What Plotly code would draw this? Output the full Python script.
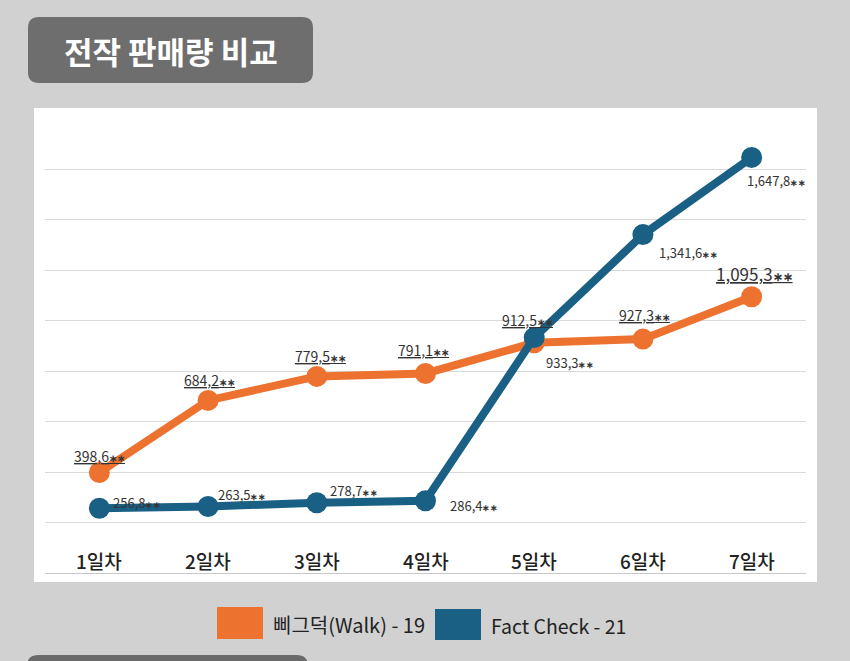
import plotly.graph_objects as go

# ---- data ----
categories = ["1일차", "2일차", "3일차", "4일차", "5일차", "6일차", "7일차"]
series_names = ["삐그덕(Walk) - 19", "Fact Check - 21"]
walk_values = [398.6, 684.2, 779.5, 791.1, 912.5, 927.3, 1095.3]
fact_values = [256.8, 263.5, 278.7, 286.4, 933.3, 1341.6, 1647.8]
title_text = "전작 판매량 비교"

# ---- style ----
W, H = 850, 661
L, R, T, B = 45, 44, 119, 88
PW, PH = W - L - R, H - T - B
ORANGE = "#ED7230"
BLUE = "#1A5F84"
BG = "#D1D1D1"
FONT = "Noto Sans CJK KR"

def stars(size):
    return f"<span style='font-size:{size}px'><b>∗∗</b></span>"

def px(x):
    return (x - L) / PW

def py(y):
    return (H - B - y) / PH

xs = list(range(1, len(categories) + 1))

fig = go.Figure()
fig.add_trace(go.Scatter(x=xs, y=walk_values, mode="lines+markers", name=series_names[0],
                         line=dict(color=ORANGE, width=8), marker=dict(color=ORANGE, size=21),
                         showlegend=False))
fig.add_trace(go.Scatter(x=xs, y=fact_values, mode="lines+markers", name=series_names[1],
                         line=dict(color=BLUE, width=8), marker=dict(color=BLUE, size=21),
                         showlegend=False))

def fmt(v):
    return f"{v:,.1f}".replace(".", ",")

ann = []
# orange labels (above, underlined)
walk_dx = [0, 1, 4, -2, -7, 2, 3]
walk_dy = [16, 20, 20, 23, 23, 24, 23]
walk_fs = [14, 14, 14, 14, 14, 14, 17]
for i, v in enumerate(walk_values):
    ss = 10 if walk_fs[i] < 16 else 12
    ann.append(dict(x=xs[i], y=v, xref="x", yref="y", text=f"<u>{fmt(v)}{stars(ss)}</u>", showarrow=False,
                    xanchor="center", yanchor="middle", xshift=walk_dx[i], yshift=walk_dy[i],
                    font=dict(family=FONT, size=walk_fs[i], color="#333333")))
# blue labels (right side)
fact_dx = [12, 8, 11, 22, 10, 14, -7]
fact_dy = [6, 12, 12, -5, -25, -18, -23]
for i, v in enumerate(fact_values):
    ann.append(dict(x=xs[i], y=v, xref="x", yref="y", text=f"{fmt(v)}{stars(9)}", showarrow=False,
                    xanchor="left", yanchor="middle", xshift=fact_dx[i], yshift=fact_dy[i],
                    font=dict(family=FONT, size=13, color="#333333")))
# category labels inside plot
for i, c in enumerate(categories):
    ann.append(dict(x=xs[i], y=py(560), xref="x", yref="paper", text=c, showarrow=False,
                    xanchor="center", yanchor="middle",
                    font=dict(family=FONT, size=19, color="#222222", weight=500)))
# title
ann.append(dict(x=px(171), y=py(50), xref="paper", yref="paper", text=f"<b>{title_text}</b>",
                showarrow=False, xanchor="center", yanchor="middle",
                font=dict(family=FONT, size=31, color="white")))
# legend texts
ann.append(dict(x=px(271), y=py(624), xref="paper", yref="paper", text=series_names[0],
                showarrow=False, xanchor="left", yanchor="middle",
                font=dict(family=FONT, size=20, color="#222222")))
ann.append(dict(x=px(489), y=py(625), xref="paper", yref="paper", text=series_names[1],
                showarrow=False, xanchor="left", yanchor="middle",
                font=dict(family=FONT, size=19.5, color="#222222")))

def rrect(x0, y0, x1, y1, r):
    X0, X1 = px(x0), px(x1)
    Y0, Y1 = py(y0), py(y1)  # Y0 top, Y1 bottom
    rx, ry = r / PW, r / PH
    return (f"M {X0+rx},{Y0} L {X1-rx},{Y0} Q {X1},{Y0} {X1},{Y0-ry} "
            f"L {X1},{Y1+ry} Q {X1},{Y1} {X1-rx},{Y1} L {X0+rx},{Y1} "
            f"Q {X0},{Y1} {X0},{Y1+ry} L {X0},{Y0-ry} Q {X0},{Y0} {X0+rx},{Y0} Z")

shapes = [
    # white panel
    dict(type="rect", xref="paper", yref="paper", x0=px(34), x1=px(817), y0=py(582), y1=py(108),
         fillcolor="white", line=dict(width=0), layer="below"),
    # title box
    dict(type="path", xref="paper", yref="paper", path=rrect(28, 17, 313, 83, 11),
         fillcolor="#6E6E6E", line=dict(width=0), layer="below"),
    # bottom partial box
    dict(type="path", xref="paper", yref="paper", path=rrect(27, 655, 308, 700, 11),
         fillcolor="#6A6A6A", line=dict(width=0), layer="below"),
    # legend swatches
    dict(type="rect", xref="paper", yref="paper", x0=px(217), x1=px(263), y0=py(639), y1=py(607),
         fillcolor=ORANGE, line=dict(width=0)),
    dict(type="rect", xref="paper", yref="paper", x0=px(435), x1=px(481), y0=py(640), y1=py(609),
         fillcolor=BLUE, line=dict(width=0)),
]

fig.update_layout(
    width=W, height=H, margin=dict(l=L, r=R, t=T, b=B),
    paper_bgcolor=BG, plot_bgcolor="white",
    annotations=ann, shapes=shapes,
    xaxis=dict(range=[0.5, 7.5], showgrid=False, showticklabels=False, zeroline=False,
               showline=False, fixedrange=True),
    yaxis=dict(range=[0, 1800], dtick=200, showgrid=True, gridcolor="#DADADA", gridwidth=1,
               showticklabels=False, zeroline=True, zerolinecolor="#C8C8C8", zerolinewidth=1,
               fixedrange=True),
    showlegend=False,
)

fig.write_html("out.html", config={"displayModeBar": False},
               post_script="document.body.style.margin='0px';document.body.style.background='#D1D1D1';")
